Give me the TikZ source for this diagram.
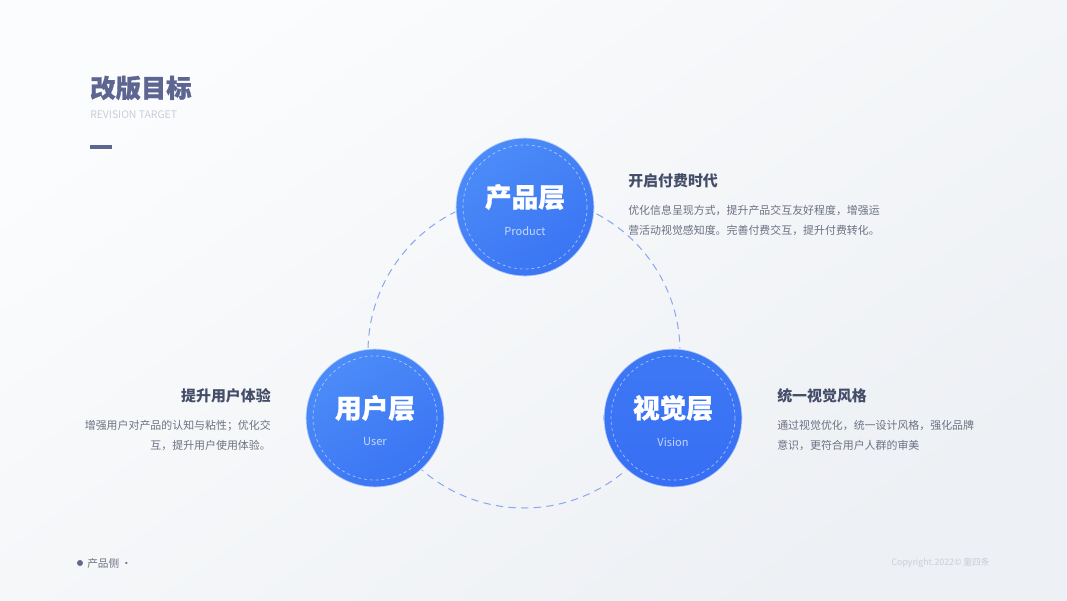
\documentclass[tikz,border=0pt]{standalone}
\usepackage{fontspec}
\setmainfont{Noto Sans CJK SC}
\usetikzlibrary{positioning}
\definecolor{titlecol}{HTML}{5D6591}
\definecolor{headcol}{HTML}{454E69}
\definecolor{bodycol}{HTML}{6C7182}
\definecolor{palecol}{HTML}{C9CDD6}
\definecolor{ringcol}{HTML}{88A8F0}
\definecolor{balltop}{HTML}{4C8CF8}
\definecolor{ballbot}{HTML}{3A74F3}
\definecolor{bgtop}{HTML}{FBFCFD}
\definecolor{bgbot}{HTML}{EDF0F4}
\tikzstyle{ball}=[circle,minimum size=104pt,inner sep=0pt,top color=balltop,bottom color=ballbot,shading angle=35,draw=white,draw opacity=0.6,line width=1.2pt]
\tikzstyle{ballname}=[text=white,font=\fontsize{20}{22}\selectfont\bfseries\addfontfeature{FakeBold=1},inner sep=0pt]
\tikzstyle{ballsub}=[text=white,opacity=0.7,font=\fontsize{8.3}{10}\selectfont,inner sep=0pt]
\tikzstyle{head}=[text=headcol,font=\fontsize{11.2}{13}\selectfont\bfseries,inner sep=0pt]
\tikzstyle{body}=[text=bodycol,font=\fontsize{8.2}{15}\selectfont,inner sep=0pt]
\tikzstyle{innerdash}=[draw=white,draw opacity=0.55,dash pattern=on 2.2pt off 2.2pt,line width=0.5pt]

\begin{document}
\begin{tikzpicture}[x=0.75pt,y=-0.75pt]
% background
\shade[top color=bgtop,bottom color=bgbot,shading angle=35] (0,0) rectangle (1067,600);
\useasboundingbox (0,0) rectangle (1067,600);
% title
\node[text=titlecol,font=\fontsize{19}{22}\selectfont\bfseries\addfontfeature{FakeBold=1.2},anchor=west,inner sep=0pt] (title) at (90,88) {改版目标};
\node[text=palecol,font=\fontsize{7.8}{9}\selectfont,anchor=west,inner sep=0pt] (subtitle) at (90,115) {REVISION TARGET};
\draw[titlecol,line width=2.3pt] (90,147) -- (112,147);
% ring behind the balls
\draw[ringcol,line width=0.75pt,dash pattern=on 5.5pt off 4pt] (524,352) circle (156);
% balls
\node[ball] (prod) at (525,207) {};
\node[ball] (user) at (375,418) {};
\node[ball,top color=ballbot!80!balltop,bottom color=ballbot!95!blue] (vision) at (673,418) {};
\foreach \b in {prod,user,vision}
  \draw[innerdash] (\b) circle (62);
\node[ballname] (prodName) at (525,197) {产品层};
\node[ballsub] (prodSub) at (525,231) {Product};
\node[ballname] (userName) at (375,408) {用户层};
\node[ballsub] (userSub) at (375,442) {User};
\node[ballname] (visionName) at (673,408) {视觉层};
\node[ballsub] (visionSub) at (673,442) {Vision};
% text blocks
\node[head,anchor=west] (prodHead) at (628,181) {开启付费时代};
\node[body,anchor=north west,align=left] (prodText) at (628,204.5) {优化信息呈现方式，提升产品交互友好程度，增强运\\营活动视觉感知度。完善付费交互，提升付费转化。};
\node[head,anchor=east] (userHead) at (271,396) {提升用户体验};
\node[body,anchor=north east,align=right] (userText) at (271,419.5) {增强用户对产品的认知与粘性；优化交\\互，提升用户使用体验。};
\node[head,anchor=west] (visionHead) at (777,396) {统一视觉风格};
\node[body,anchor=north west,align=left] (visionText) at (777,419.5) {通过视觉优化，统一设计风格，强化品牌\\意识，更符合用户人群的审美};
% footer
\fill[titlecol!85!gray] (80,563) circle (3);
\node[text=bodycol,font=\fontsize{8}{9}\selectfont,anchor=west,inner sep=0pt] (side) at (87,563) {产品侧\,·};
\node[text=palecol,font=\fontsize{6.6}{8}\selectfont,anchor=east,inner sep=0pt] (copy) at (990,563) {Copyright.2022© 童四条};
\end{tikzpicture}
\end{document}
